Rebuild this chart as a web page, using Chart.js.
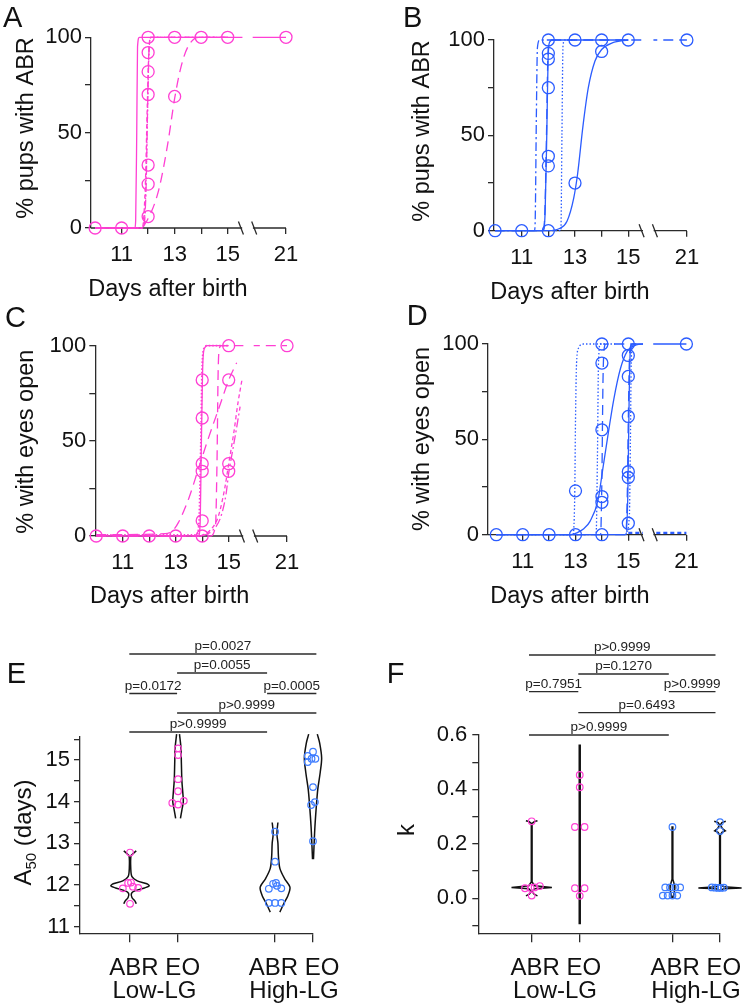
<!DOCTYPE html>
<html>
<head>
<meta charset="utf-8">
<script src="https://cdn.jsdelivr.net/npm/chart.js@4.4.1/dist/chart.umd.min.js"></script>
<style>
body { margin: 0; background: #fff; }
#wrap { position: relative; width: 750px; height: 1008px; overflow: hidden; }
#wrap canvas { position: absolute; left: 0; top: 0; }
</style>
</head>
<body>
<div id="wrap">
<canvas id="cA" width="750" height="1008"></canvas>
<canvas id="cB" width="750" height="1008"></canvas>
<canvas id="cC" width="750" height="1008"></canvas>
<canvas id="cD" width="750" height="1008"></canvas>
<canvas id="cE" width="750" height="1008"></canvas>
<canvas id="cF" width="750" height="1008"></canvas>
</div>
<script>
// ---------- data ----------
// ticks of the time panels (day 21 sits after the axis break)
var xTicks = [11, 12, 13, 14, 15, 21];
var xTickLabels = ['11', '', '13', '', '15', '21'];
var yTicks = [0, 25, 50, 75, 100];
var yTickLabels = ['0', '', '50', '', '100'];

// A - ABR, Low-LG
var aDays = [10, 11, 12, 12, 12, 12, 12, 12, 12, 13, 13, 14, 15, 21];
var aPct  = [0, 0, 100, 92, 82, 70, 33, 23, 6, 100, 69, 100, 100, 100];
var aSolid     = [[10,0],[11.5,0],[11.53,4],[11.57,50],[11.6,95],[11.67,100],[21,100]];
var aDot       = [[10,0],[11.8,0],[11.9,15],[11.97,55],[12.03,92],[12.1,100],[15,100]];
var aDashDot   = [[10,0],[11.82,0],[11.92,20],[11.99,70],[12.04,95],[12.12,100],[15,100]];
var aShortDash = [[10,0],[11.78,0],[11.9,25],[11.96,60],[12.02,90],[12.08,100],[15,100]];
var aLongDash  = [[10,0],[11.7,0],[12.0,5],[12.4,20],[12.75,45],[13.0,68],[13.25,85],[13.5,95],[13.9,100],[15,100]];

// B - ABR, High-LG
var bDays = [10, 11, 12, 12, 12, 12, 12, 12, 12, 13, 13, 14, 14, 15, 21];
var bPct  = [0, 0, 0, 100, 93, 90, 75, 39, 34, 100, 25, 100, 94, 100, 100];
var bDashDot    = [[10,0],[11.48,0],[11.51,8],[11.55,60],[11.59,96],[11.68,100],[12.3,100]];
var bSolidSteep = [[10,0],[11.8,0],[11.88,10],[11.94,50],[11.99,90],[12.05,99],[12.15,100],[15,100]];
var bLongDash   = [[10,0],[11.8,0],[11.87,10],[11.93,50],[11.98,90],[12.04,99],[12.12,100],[21,100]];
var bDot        = [[12.0,0],[12.47,0],[12.51,50],[12.55,97],[12.62,100],[13,100]];
var bSmooth     = [[10,0],[12,0],[12.4,1],[12.7,5],[12.95,17],[13.1,30],[13.3,55],[13.5,75],[13.75,89],[14.0,95],[14.4,98.5],[15,100]];

// C - eye opening, Low-LG
var cDays = [10, 11, 12, 13, 14, 14, 14, 14, 14, 14, 15, 15, 15, 15, 21];
var cPct  = [0, 0, 0, 0, 0, 8, 34, 38, 62, 82, 100, 82, 38, 34, 100];
var cSolid     = [[10,0],[13.86,0],[13.92,6],[13.97,50],[14.03,93],[14.1,99],[14.2,100],[15,100]];
var cSquareDot = [[10,0.6],[13.8,0.6],[13.88,8],[13.95,50],[14.0,90],[14.08,99],[14.18,100],[15,100]];
var cLong1     = [[10,0],[14.3,0],[14.5,5],[14.56,40],[14.6,85],[14.64,98],[14.72,100],[21,100]];
var cLong2     = [[10,0.7],[12.6,1.2],[12.9,3],[13.1,7],[13.5,20],[13.85,35],[14.2,50],[14.7,70],[15.0,82],[15.3,91]];
var cShort     = [[13.95,0],[14.3,3],[14.6,10],[14.85,25],[15.0,38],[15.2,55],[15.35,70],[15.5,82]];
var cDashDot   = [[14.0,0],[14.4,3],[14.7,10],[14.9,22],[15.0,33],[15.15,45],[15.3,57],[15.43,68]];

// D - eye opening, High-LG
var dDays = [10, 11, 12, 13, 13, 14, 14, 14, 14, 14, 14, 15, 15, 15, 15, 15, 15, 15, 21];
var dPct  = [0, 0, 0, 0, 23, 0, 17, 20, 55, 90, 100, 6, 30, 33, 62, 83, 94, 100, 100];
var dDot1   = [[10,0],[12.9,0],[12.97,20],[13.0,60],[13.04,90],[13.12,98],[13.3,100],[14.5,100]];
var dDot2   = [[10,0],[13.78,0],[13.83,40],[13.87,90],[13.94,100],[14.2,100]];
var dLong1  = [[10,0],[13.95,0],[14.0,30],[14.04,80],[14.08,97],[14.15,100],[15.3,100]];
var dSmooth = [[10,0],[12.8,0],[13.05,1],[13.3,3],[13.55,7],[13.85,18],[14.05,36],[14.25,54],[14.45,71],[14.7,87],[14.95,96],[15.3,99.5],[15.6,100]];
var dSteep  = [[10,0],[14.9,0],[14.98,20],[15.03,70],[15.07,95],[15.15,100],[21,100]];
var dLong2  = [[14.5,0],[14.9,0],[14.96,20],[15.0,60],[15.05,95],[15.12,100]];
var dDot3   = [[14.9,0],[15.04,10],[15.08,50],[15.11,90],[15.16,100]];
var dLow    = [[15,1],[21,1]];

// E - A50 (days)
var eCats = [1, 2, 4.02, 4.81];
var eAbrLow  = [12.78, 12.05, 12.06, 11.92, 11.96, 11.93, 11.55];
var eEoLow   = [15.28, 15.12, 14.54, 14.25, 13.97, 13.93, 14.02];
var eAbrHigh = [13.28, 12.56, 12.03, 12.05, 11.98, 11.91, 11.92, 11.57, 11.57, 11.57];
var eEoHigh  = [15.2, 15.1, 15.03, 15.03, 15.02, 14.97, 14.95, 14.35, 13.99, 13.92, 13.05];
var eTicks = [11, 11.5, 12, 12.5, 13, 13.5, 14, 14.5, 15, 15.5];
var eTickLabels = ['11', '', '12', '', '13', '', '14', '', '15', ''];
// violin outlines: [value, half width]
var vEAbrLow  = [[12.82,0.13],[12.76,0.07],[12.7,0.02],[12.4,0.015],[12.2,0.04],[12.1,0.15],[12.03,0.35],[11.98,0.4],[11.93,0.3],[11.86,0.1],[11.8,0.03],[11.7,0.04],[11.62,0.1],[11.55,0.13]];
var vEEoLow   = [[15.62,0.03],[15.3,0.06],[14.9,0.07],[14.5,0.08],[14.2,0.1],[14.0,0.11],[13.8,0.08],[13.6,0.05]];
var vEAbrHigh = [[13.5,0.06],[13.35,0.045],[13.2,0.04],[13.0,0.06],[12.7,0.07],[12.4,0.1],[12.15,0.2],[11.95,0.31],[11.75,0.27],[11.55,0.18],[11.35,0.1]];
var vEEoHigh  = [[15.62,0.09],[15.4,0.14],[15.05,0.18],[14.7,0.15],[14.3,0.1],[13.9,0.07],[13.4,0.04],[12.9,0.02],[12.62,0.01]];
var compE = [[0,3,'p=0.0027'],[1,2,'p=0.0055'],[0,1,'p=0.0172'],[2,3,'p=0.0005'],[1,3,'p>0.9999'],[0,2,'p>0.9999']];

// F - k
var fCats = [1, 2, 3.93, 4.92];
var fAbrLow  = [0.283, 0.037, 0.038, 0.04, 0.045, 0.01];
var fEoLow   = [0.453, 0.408, 0.262, 0.262, 0.037, 0.037, 0.009];
var fAbrHigh = [0.262, 0.04, 0.04, 0.04, 0.04, 0.01, 0.01, 0.01, 0.01];
var fEoHigh  = [0.28, 0.247, 0.04, 0.039, 0.038, 0.038, 0.039, 0.04];
var fTicks = [-0.1, 0, 0.1, 0.2, 0.3, 0.4, 0.5, 0.6];
var fTickLabels = ['', '0.0', '', '0.2', '', '0.4', '', '0.6'];
var vFAbrLow  = [[0.285,0.12],[0.282,0.06],[0.275,0.008],[0.06,0.008],[0.046,0.06],[0.04,0.42],[0.035,0.06],[0.025,0.008],[0.015,0.05],[0.009,0.12]];
var vFEoLow   = [[0.565,0.01],[-0.095,0.01]];
var vFAbrHigh = [[0.265,0.008],[0.07,0.008],[0.05,0.04],[0.035,0.05],[0.015,0.03],[0.0,0.005]];
var vFEoHigh  = [[0.283,0.12],[0.278,0.04],[0.27,0.008],[0.256,0.05],[0.248,0.11],[0.242,0.04],[0.232,0.008],[0.05,0.008],[0.042,0.08],[0.038,0.45],[0.035,0.08],[0.03,0.008]];
var compF = [[0,3,'p>0.9999'],[1,2,'p=0.1270'],[0,1,'p=0.7951'],[2,3,'p>0.9999'],[1,3,'p=0.6493'],[0,2,'p>0.9999']];

// ---------- look ----------
var W = 750, H = 1008, YW = 60, XH = 40;
var FONT = '"Liberation Sans", Arial, Helvetica, sans-serif';
var MAG = '#ff3fd4';
var BLUE = '#2b5cff';
var BLUE_PT = '#3f7dff';
var AXIS = '#2b2b2b';
var INK = '#111';
var TICK_SIZE = 22;
var D21 = 17.2;          // where day 21 sits on the broken axis
var BREAK = [15.5, 16.0];
var DASH = { solid: [], long: [10, 6], short: [4, 3], dot: [1.5, 2], dashdot: [9, 3, 2, 3] };

function pos(d) { return d >= 21 ? D21 : d; }

function grid(len) {
	return { display: true, drawOnChartArea: false, drawTicks: true, tickLength: len, color: AXIS, lineWidth: 1.3 };
}

function textPlugin(items) {
	return {
		id: 'texts',
		afterDraw: function(chart) {
			var ctx = chart.ctx;
			items.forEach(function(it) {
				var size = it.size || 23.5;
				ctx.save();
				ctx.fillStyle = INK;
				ctx.textBaseline = 'alphabetic';
				if (it.rot) {
					ctx.translate(it.x + 0.358 * size, it.y);
					ctx.rotate(-Math.PI / 2);
				} else {
					ctx.translate(it.x, it.y);
				}
				if (it.parts) {
					// text with subscript, centred
					var total = 0;
					it.parts.forEach(function(p) {
						ctx.font = p[1] + 'px ' + FONT;
						total += ctx.measureText(p[0]).width;
					});
					var cx = -total / 2;
					ctx.textAlign = 'left';
					it.parts.forEach(function(p) {
						ctx.font = p[1] + 'px ' + FONT;
						ctx.fillText(p[0], cx, p[2]);
						cx += ctx.measureText(p[0]).width;
					});
				} else {
					ctx.font = size + 'px ' + FONT;
					ctx.textAlign = it.align || 'center';
					ctx.fillText(it.t, 0, 0);
				}
				ctx.restore();
			});
		}
	};
}

var breakPlugin = {
	id: 'xbreak',
	beforeDatasetsDraw: function(chart) {
		var ctx = chart.ctx, a = chart.chartArea, x = chart.scales.x;
		var x1 = x.getPixelForValue(BREAK[0]), x2 = x.getPixelForValue(BREAK[1]);
		ctx.save();
		ctx.strokeStyle = AXIS;
		ctx.lineWidth = 1.3;
		ctx.beginPath();
		ctx.moveTo(a.left, a.bottom); ctx.lineTo(x1 + 1.5, a.bottom);
		ctx.moveTo(x2 - 1.5, a.bottom); ctx.lineTo(a.right, a.bottom);
		ctx.stroke();
		ctx.restore();
	},
	afterDatasetsDraw: function(chart) {
		var ctx = chart.ctx, a = chart.chartArea, x = chart.scales.x;
		var x1 = x.getPixelForValue(BREAK[0]), x2 = x.getPixelForValue(BREAK[1]);
		ctx.save();
		ctx.fillStyle = '#fff';
		ctx.fillRect(x1 + 1.5, a.top - 10, x2 - x1 - 3, a.bottom - a.top + 13);
		ctx.strokeStyle = AXIS;
		ctx.lineWidth = 1.3;
		ctx.beginPath();
		[x1, x2].forEach(function(p) {
			ctx.moveTo(p - 2.5, a.bottom - 6.5);
			ctx.lineTo(p + 2.5, a.bottom + 6.5);
		});
		ctx.stroke();
		ctx.restore();
	}
};

function curveChart(id, box, color, days, pct, curves, texts) {
	var datasets = [{
		data: days.map(function(d, i) { return { x: pos(d), y: pct[i] }; }),
		showLine: false, pointRadius: 6, pointBorderWidth: 1.3,
		pointBorderColor: color, pointBackgroundColor: 'rgba(0,0,0,0)', clip: false
	}];
	curves.forEach(function(c) {
		datasets.push({
			data: c[0].map(function(p) { return { x: pos(p[0]), y: p[1] }; }),
			borderColor: color, borderWidth: c[2] || 1.3, borderDash: DASH[c[1]],
			pointRadius: 0, cubicInterpolationMode: 'monotone', fill: false, clip: false
		});
	});
	new Chart(document.getElementById(id), {
		type: 'line',
		data: { datasets: datasets },
		options: {
			responsive: false, animation: false, devicePixelRatio: 1, events: [],
			layout: { padding: { left: box.l - YW, top: box.t, right: W - box.r, bottom: H - box.b - XH } },
			plugins: { legend: { display: false }, tooltip: { enabled: false } },
			scales: {
				x: {
					type: 'linear', min: box.x0, max: D21,
					afterFit: function(s) { s.height = XH; },
					afterBuildTicks: function(s) { s.ticks = xTicks.map(function(v) { return { value: pos(v) }; }); },
					ticks: { autoSkip: false, maxRotation: 0, padding: 8, color: INK, font: { family: FONT, size: TICK_SIZE },
						callback: function(v, i) { return xTickLabels[i]; } },
					grid: grid(6), border: { display: false }
				},
				y: {
					type: 'linear', min: 0, max: 100,
					afterFit: function(s) { s.width = YW; },
					afterBuildTicks: function(s) { s.ticks = yTicks.map(function(v) { return { value: v }; }); },
					ticks: { autoSkip: false, padding: 3, color: INK, font: { family: FONT, size: TICK_SIZE },
						callback: function(v, i) { return yTickLabels[i]; } },
					grid: grid(6), border: { display: true, color: AXIS, width: 1.3 }
				}
			}
		},
		plugins: [breakPlugin, textPlugin(texts)]
	});
}

function bracketPlugin(comps, rowsY, rows, anchors) {
	return {
		id: 'brackets',
		afterDraw: function(chart) {
			var ctx = chart.ctx, x = chart.scales.x;
			ctx.save();
			ctx.strokeStyle = AXIS;
			ctx.lineWidth = 1.3;
			ctx.fillStyle = '#222';
			ctx.font = '13.5px ' + FONT;
			ctx.textAlign = 'center';
			ctx.textBaseline = 'alphabetic';
			comps.forEach(function(c, i) {
				var y = rowsY[rows[i]];
				var x1 = x.getPixelForValue(anchors[c[0]]), x2 = x.getPixelForValue(anchors[c[1]]);
				ctx.beginPath();
				ctx.moveTo(x1, y); ctx.lineTo(x2, y);
				ctx.stroke();
				ctx.fillText(c[2], (x1 + x2) / 2, y - 4);
			});
			ctx.restore();
		}
	};
}

function violinChart(id, box, groups, cats, ticks, tickLabels, lw, tension, plugins) {
	var points = [], outlines = [];
	groups.forEach(function(g, gi) {
		var c = cats[gi];
		points.push({
			data: g.vals.map(function(v, i) { return { x: c + g.jit[i], y: v }; }),
			showLine: false, pointRadius: 3.3, pointBorderWidth: 1.2,
			pointBorderColor: g.color, pointBackgroundColor: 'rgba(0,0,0,0)', clip: false
		});
		var right = g.shape.map(function(p) { return { x: c + p[1], y: p[0] }; });
		var left = g.shape.map(function(p) { return { x: c - p[1], y: p[0] }; });
		outlines.push({
			data: right.concat([{ x: c, y: null }], left),
			borderColor: '#111', borderWidth: lw, pointRadius: 0, tension: tension,
			fill: false, clip: false, spanGaps: false
		});
	});
	new Chart(document.getElementById(id), {
		type: 'line',
		data: { datasets: points.concat(outlines) },
		options: {
			responsive: false, animation: false, devicePixelRatio: 1, events: [],
			elements: { line: { capBezierPoints: false } },
			layout: { padding: { left: box.l - YW, top: box.t, right: W - box.r, bottom: H - box.b - XH } },
			plugins: { legend: { display: false }, tooltip: { enabled: false } },
			scales: {
				x: {
					type: 'linear', min: box.x0, max: box.x1,
					afterFit: function(s) { s.height = XH; },
					afterBuildTicks: function(s) { s.ticks = cats.map(function(v) { return { value: v }; }); },
					ticks: { autoSkip: false, maxRotation: 0, callback: function() { return ''; } },
					grid: grid(9), border: { display: true, color: AXIS, width: 1.3 }
				},
				y: {
					type: 'linear', min: box.y0, max: box.y1,
					afterFit: function(s) { s.width = YW; },
					afterBuildTicks: function(s) { s.ticks = ticks.map(function(v) { return { value: v }; }); },
					ticks: { autoSkip: false, padding: box.tp, color: INK, font: { family: FONT, size: TICK_SIZE },
						callback: function(v, i) { return tickLabels[i]; } },
					grid: grid(6), border: { display: true, color: AXIS, width: 1.3 }
				}
			}
		},
		plugins: plugins
	});
}

// ---------- panels ----------
curveChart('cA', { l: 91, r: 286, t: 37.3, b: 228, x0: 9.845 }, MAG, aDays, aPct,
	[[aSolid, 'solid'], [aDot, 'dot'], [aDashDot, 'dashdot'], [aShortDash, 'short'], [aLongDash, 'long']],
	[{ t: 'A', x: 3, y: 26.7, size: 29, align: 'left' },
	 { t: '% pups with ABR', x: 25, y: 128, rot: true },
	 { t: 'Days after birth', x: 168, y: 296.4 }]);

curveChart('cB', { l: 494, r: 686.9, t: 40, b: 230.7, x0: 9.96 }, BLUE, bDays, bPct,
	[[bDashDot, 'dashdot'], [bSolidSteep, 'solid'], [bLongDash, 'long'], [bDot, 'dot'], [bSmooth, 'solid']],
	[{ t: 'B', x: 403, y: 26.7, size: 29, align: 'left' },
	 { t: '% pups with ABR', x: 421, y: 131, rot: true },
	 { t: 'Days after birth', x: 570, y: 298.5 }]);

curveChart('cC', { l: 95.3, r: 287, t: 345.7, b: 536, x0: 9.966 }, MAG, cDays, cPct,
	[[cSolid, 'solid'], [cSquareDot, 'dot', 1.8], [cLong1, 'long'], [cLong2, 'long'], [cShort, 'short'], [cDashDot, 'dashdot']],
	[{ t: 'C', x: 5, y: 326.7, size: 29, align: 'left' },
	 { t: '% with eyes open', x: 25, y: 441.7, rot: true },
	 { t: 'Days after birth', x: 169.7, y: 603.3 }]);

curveChart('cD', { l: 488, r: 686.4, t: 344, b: 534.7, x0: 9.686 }, BLUE, dDays, dPct,
	[[dDot1, 'dot'], [dDot2, 'dot'], [dLong1, 'long'], [dSmooth, 'solid'], [dSteep, 'solid'], [dLong2, 'long'], [dDot3, 'dot'], [dLow, 'short', 2.2]],
	[{ t: 'D', x: 406.7, y: 325, size: 29, align: 'left' },
	 { t: '% with eyes open', x: 421, y: 439, rot: true },
	 { t: 'Days after birth', x: 570, y: 603.3 }]);

violinChart('cE', { l: 80, r: 313, t: 736.7, b: 933.3, x0: -0.0417, x1: 4.81, y0: 10.842, y1: 15.559, tp: 4 },
	[{ vals: eAbrLow, jit: [0, -0.04, 0.02, -0.15, 0.06, 0.17, 0], shape: vEAbrLow, color: MAG },
	 { vals: eEoLow, jit: [0, 0, 0, 0, -0.12, 0, 0.12], shape: vEEoLow, color: MAG },
	 { vals: eAbrHigh, jit: [0, 0, -0.04, 0.02, 0.04, -0.13, 0.13, -0.13, 0, 0.13], shape: vEAbrHigh, color: BLUE_PT },
	 { vals: eEoHigh, jit: [0, -0.11, -0.03, 0.05, 0.11, 0.15, -0.11, 0, 0.04, -0.04, 0], shape: vEEoHigh, color: BLUE_PT }],
	eCats, eTicks, eTickLabels, 1.5, 0.3,
	[bracketPlugin(compE, [732, 713, 693.5, 673, 654], [4, 3, 2, 2, 1, 0], [0.985, 1.98, 3.854, 4.88]),
	 textPlugin([
		{ t: 'E', x: 6.7, y: 683.3, size: 29, align: 'left' },
		{ parts: [['A', 24, 0], ['50', 15, 5], [' (days)', 24, 0]], x: 22.5, y: 832.5, size: 24, rot: true },
		{ t: 'ABR EO', x: 154.7, y: 975, size: 24 },
		{ t: 'Low-LG', x: 154.5, y: 998, size: 24 },
		{ t: 'ABR EO', x: 294, y: 975, size: 24 },
		{ t: 'High-LG', x: 294, y: 998, size: 24 }])]);

violinChart('cF', { l: 478.3, r: 720, t: 735, b: 933.3, x0: -0.1116, x1: 4.92, y0: -0.1286, y1: 0.6, tp: 5 },
	[{ vals: fAbrLow, jit: [0, -0.14, -0.02, 0.06, 0.17, 0], shape: vFAbrLow, color: MAG },
	 { vals: fEoLow, jit: [0, 0, -0.1, 0.1, -0.1, 0.1, 0], shape: vFEoLow, color: MAG },
	 { vals: fAbrHigh, jit: [0, -0.15, -0.05, 0.06, 0.16, -0.2, -0.1, 0, 0.1], shape: vFAbrHigh, color: BLUE_PT },
	 { vals: fEoHigh, jit: [0, 0, -0.17, -0.1, -0.04, 0.02, 0.08, 0.15], shape: vFEoHigh, color: BLUE_PT }],
	fCats, fTicks, fTickLabels, 1.5, 0,
	[bracketPlugin(compF, [735, 712.7, 691.7, 674, 655], [4, 3, 2, 2, 1, 0], [0.944, 1.97, 3.854, 4.826]),
	 textPlugin([
		{ t: 'F', x: 386.7, y: 683, size: 29, align: 'left' },
		{ t: 'k', x: 405.8, y: 830, size: 24, rot: true },
		{ t: 'ABR EO', x: 555.8, y: 975, size: 24 },
		{ t: 'Low-LG', x: 555, y: 998, size: 24 },
		{ t: 'ABR EO', x: 695.8, y: 975, size: 24 },
		{ t: 'High-LG', x: 696, y: 998, size: 24 }])]);
</script>
</body>
</html>
